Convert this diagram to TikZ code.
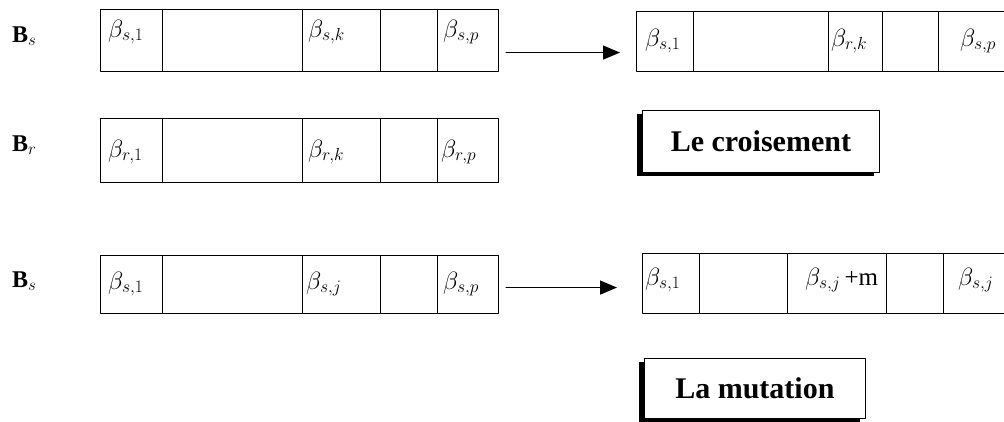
\documentclass[tikz,border=0pt]{standalone}
\usepackage{fix-cm}
\usepackage{fontspec}
\setmainfont{Liberation Serif}
\usepackage{tikz}
\usetikzlibrary{arrows.meta,calc,positioning,shadows}

\begin{document}
\begin{tikzpicture}[x=1pt,y=-1pt,line cap=round,line join=round,
  cell/.style={draw,line width=1.1pt,inner sep=0pt,anchor=north west},
  gene/.style={font=\fontsize{25}{27}\selectfont,anchor=west,inner sep=0pt},
  rowname/.style={font=\fontsize{24}{26}\selectfont\bfseries,anchor=west,inner sep=0pt},
  titlebox/.style={draw,line width=.8pt,fill=white,inner sep=0pt,anchor=north west,
    font=\fontsize{30}{32}\selectfont\bfseries,
    drop shadow={shadow xshift=-5pt,shadow yshift=-4pt,fill=black,opacity=1}},
  flow/.style={line width=1.3pt,-{Triangle[length=17pt,width=14pt]}}]
  \useasboundingbox[fill=white] (0,0) rectangle (1004,421);

  % Parent chromosomes.
  \foreach \xa/\xb [count=\i] in {100/162,162/302,302/380,380/437,437/498}{
    \node[cell,minimum width={(\xb-\xa)*1pt},minimum height=62pt] (bs\i) at (\xa,9) {};
    \node[cell,minimum width={(\xb-\xa)*1pt},minimum height=64pt] (br\i) at (\xa,118) {};
    \node[cell,minimum width={(\xb-\xa)*1pt},minimum height=58pt] (bm\i) at (\xa,255) {};
  }
  \node[rowname] (ns) at (12,36) {B$_s$};
  \node[rowname] (nr) at (12,145) {B$_r$};
  \node[rowname] (nm) at (12,281) {B$_s$};
  \node[gene] (gs1) at (108,32) {$\beta_{s,1}$};
  \node[gene] (gs2) at (308,32) {$\beta_{s,k}$};
  \node[gene] (gs3) at (443,32) {$\beta_{s,p}$};
  \node[gene] (gr1) at (108,152) {$\beta_{r,1}$};
  \node[gene] (gr2) at (308,152) {$\beta_{r,k}$};
  \node[gene] (gr3) at (441,152) {$\beta_{r,p}$};
  \node[gene] (gm1) at (108,284) {$\beta_{s,1}$};
  \node[gene] (gm2) at (306,284) {$\beta_{s,j}$};
  \node[gene] (gm3) at (443,284) {$\beta_{s,p}$};

  % Offspring.
  \foreach \xa/\xb [count=\i] in {636/693,693/828,828/882,882/938,938/1012}
    \node[cell,minimum width={(\xb-\xa)*1pt},minimum height=60pt] (cx\i) at (\xa,11) {};
  \foreach \xa/\xb [count=\i] in {642/699,699/787,787/886,886/943,943/1012}
    \node[cell,minimum width={(\xb-\xa)*1pt},minimum height=60pt] (mx\i) at (\xa,253) {};
  \node[gene] (gc1) at (645,41) {$\beta_{s,1}$};
  \node[gene] (gc2) at (831,41) {$\beta_{r,k}$};
  \node[gene] (gc3) at (960,41) {$\beta_{s,p}$};
  \node[gene] (gx1) at (645,280) {$\beta_{s,1}$};
  \node[gene] (gx2) at (805,280) {$\beta_{s,j}$\,+m};
  \node[gene] (gx3) at (958,280) {$\beta_{s,j}$};

  % Operators.
  \coordinate (a1) at ([shift={(7,12)}]bs5.east);
  \coordinate (a2) at ([shift={(7,3)}]bm5.east);
  \draw[flow,shorten >=16pt] (a1) -- (a1 -| cx1.west);
  \draw[flow,shorten >=25pt] (a2) -- (a2 -| mx1.west);
  \node[titlebox,minimum width=237pt,minimum height=62pt] (cross) at (642,110) {Le croisement};
  \node[titlebox,minimum width=221pt,minimum height=60pt] (mut) at (644,358) {La mutation};
\end{tikzpicture}
\end{document}
